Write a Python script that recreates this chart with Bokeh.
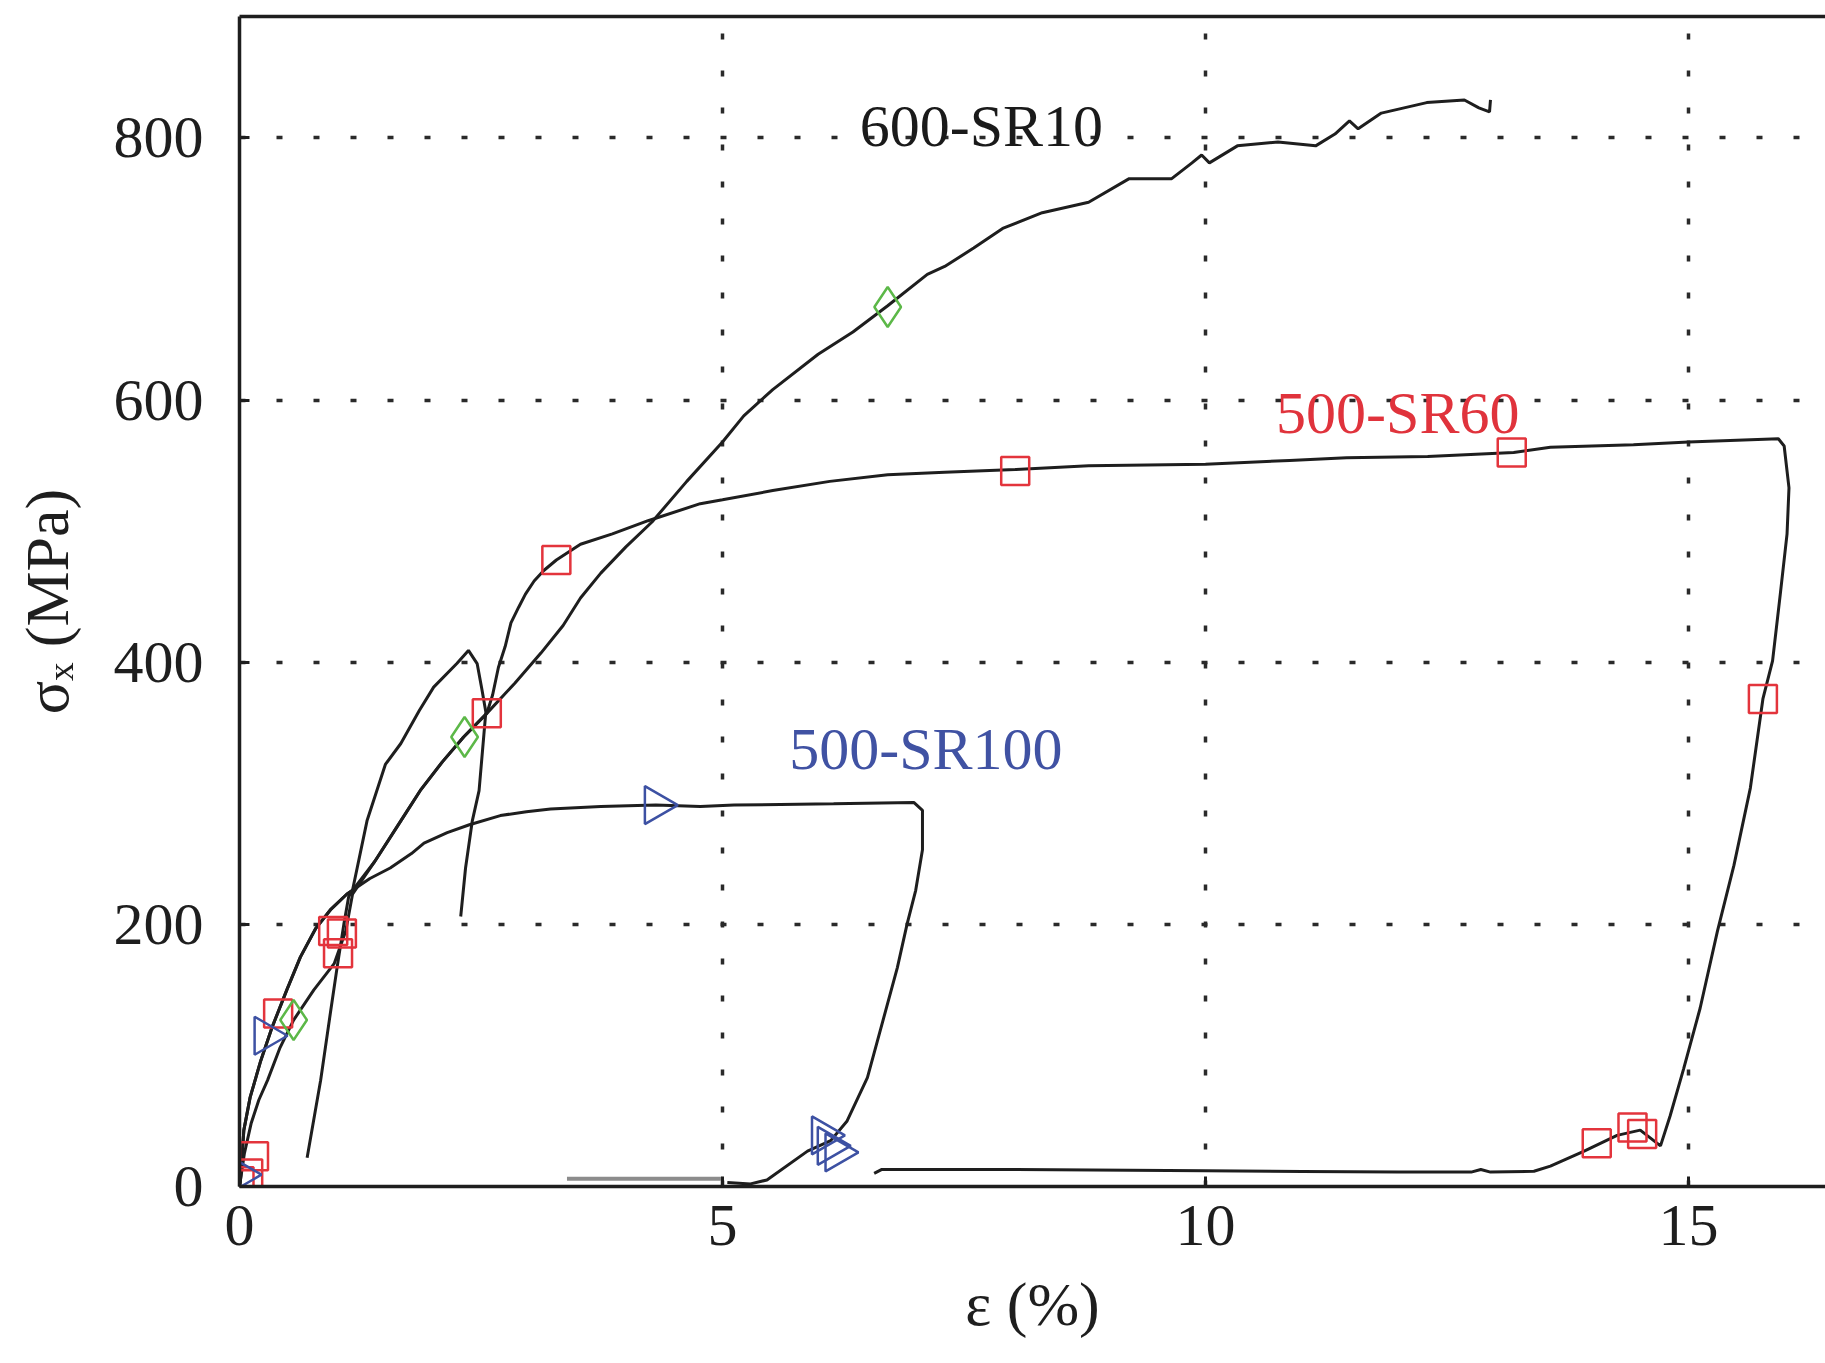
import math
from bokeh.plotting import figure
from bokeh.models import Range1d, LinearAxis, FixedTicker, ColumnDataSource
from bokeh.embed import file_html
from bokeh.resources import INLINE
from bokeh.core.properties import value

# ---------------- data (strain in %, stress in MPa) ----------------
x_ticks = [0, 5, 10, 15]
y_ticks = [0, 200, 400, 600, 800]

sr10_strain = [0, 0.05, 0.12, 0.20, 0.29, 0.42, 0.56, 0.77, 0.98, 1.10, 1.17, 1.40, 1.67, 1.87,
               2.10, 2.32, 2.56, 2.85, 3.12, 3.35, 3.53, 3.74, 4.00, 4.27, 4.63, 5.00, 5.22, 5.52,
               5.99, 6.35, 6.71, 7.12, 7.30, 7.60, 7.90, 8.31, 8.79, 9.21, 9.65, 9.86, 9.96,
               10.04, 10.33, 10.75, 11.14, 11.34, 11.49, 11.58, 11.82, 12.29, 12.68, 12.83,
               12.94, 12.95]
sr10_stress = [0, 25, 48, 66, 81, 106, 127, 150, 170, 195, 223, 248, 279, 302,
               324, 343, 361, 384, 407, 428, 449, 468, 488, 507, 538, 568, 588, 608,
               635, 652, 672, 696, 702, 716, 731, 743, 751, 769, 769, 781, 787,
               781, 794, 797, 794, 803, 813, 807, 819, 827, 829, 823,
               820, 829]

sr60_strain = [0, 0.01, 0.045, 0.11, 0.22, 0.34, 0.49, 0.63, 0.79, 0.94, 1.11, 1.17, 1.40,
               1.67, 1.87, 2.10, 2.32, 2.56, 2.62, 2.68, 2.75, 2.81, 2.89, 2.96, 3.05, 3.15,
               3.28, 3.53, 3.86, 4.23, 4.77, 5.00, 5.52, 6.11, 6.71, 7.30, 8.03, 8.79, 10.00,
               10.87, 11.46, 12.30, 13.19, 13.57, 14.43, 15.00, 15.93, 15.99, 16.04, 16.02,
               15.95, 15.87, 15.77, 15.64, 15.47, 15.30, 15.12, 14.95, 14.81, 14.71, 14.50,
               14.26, 13.92, 13.57, 13.40, 12.95, 12.85, 12.75, 12.00, 11.00, 10.00, 8.00,
               6.65, 6.57]
sr60_stress = [0, 5, 43, 68, 96, 122, 150, 175, 197, 211, 223, 226, 248,
               279, 302, 324, 343, 361, 375, 396, 412, 430, 442, 452, 462, 470,
               478, 490, 498, 508, 521, 524, 531, 538, 543, 545, 547, 550, 551,
               554, 556, 557, 560, 564, 566, 568, 570.5, 565, 533, 498,
               452, 401, 372, 304, 245, 195, 136, 90, 54, 31, 43,
               39, 27, 15.5, 11.6, 11, 13, 11, 11, 11.5, 12, 13,
               13, 10]

sr100_strain = [0, 0.01, 0.045, 0.11, 0.22, 0.34, 0.49, 0.63, 0.79, 0.94, 1.11, 1.17, 1.35,
                1.56, 1.78, 1.91, 2.15, 2.38, 2.70, 2.97, 3.22, 3.74, 4.31, 4.77, 5.12, 5.60,
                6.15, 6.98, 7.07, 7.07, 7.00, 6.91, 6.81, 6.67, 6.50, 6.29, 6.12, 5.88, 5.46,
                5.29, 5.05]
sr100_stress = [0, 5, 43, 68, 96, 122, 150, 175, 197, 211, 223, 226, 235,
                243, 254, 262, 270, 276, 283, 286, 288, 290, 291, 290, 291, 291.5,
                292, 293, 287, 257, 226, 200, 167, 129, 83, 50, 35, 27, 5,
                2, 3]

# unlabelled reload / drop branch
extra_strain = [0.70, 0.84, 0.94, 1.01, 1.08, 1.13, 1.17, 1.32, 1.51, 1.67, 1.86, 2.01, 2.25,
                2.37, 2.46, 2.51, 2.55, 2.53, 2.48, 2.41, 2.34, 2.29]
extra_stress = [22, 81, 132, 167, 200, 221, 226, 279, 322, 338, 363, 381, 399,
                409, 399, 379, 362, 345, 302, 279, 243, 206]

# grey residual segment
grey_strain = [3.39, 5.00]
grey_stress = [6, 6]

# markers
sq_strain = [0.00, 0.09, 0.15, 0.40, 0.97, 1.06, 1.02, 2.56, 3.28, 8.03, 13.17, 15.77, 14.05, 14.42, 14.52]
sq_stress = [4, 10, 23, 132, 195, 193, 178, 361, 478, 546, 560, 372, 33, 45, 40]
dia_strain = [0.56, 2.33, 6.71]
dia_stress = [127, 343, 671]
tri_strain = [0.00, 0.27, 4.31, 6.04, 6.10, 6.18]
tri_stress = [9, 115, 291, 39, 31, 26]

ann_text = ["600-SR10", "500-SR60", "500-SR100"]
ann_x = [6.42, 10.73, 5.69]
ann_y = [809, 590, 334]
ann_color = ["#1a1a1a", "#e0333c", "#4052a3"]

for a, b in [(sr10_strain, sr10_stress), (sr60_strain, sr60_stress), (sr100_strain, sr100_stress),
             (extra_strain, extra_stress), (sq_strain, sq_stress), (dia_strain, dia_stress),
             (tri_strain, tri_stress)]:
    assert len(a) == len(b), (len(a), len(b))

# ---------------- figure ----------------
SERIF = "Liberation Serif"
INK = "#1e1e1e"

W, H = 1825, 1363
LEFT, TOP, BOTTOM = 239, 16, 177
X_END, Y_END = 16.418, 892.7

p = figure(width=W, height=H, output_backend="svg", toolbar_location=None,
           x_range=Range1d(0, X_END), y_range=Range1d(0, Y_END),
           min_border_left=LEFT, min_border_right=0, min_border_top=TOP,
           min_border_bottom=BOTTOM)
p.outline_line_color = None
p.background_fill_color = "white"
p.border_fill_color = "white"

p.xaxis.ticker = FixedTicker(ticks=x_ticks)
p.yaxis.ticker = FixedTicker(ticks=y_ticks)
for ax in (p.xaxis[0], p.yaxis[0]):
    ax.axis_line_width = 3.5
    ax.axis_line_color = INK
    ax.major_tick_in = 10
    ax.major_tick_out = 0
    ax.major_tick_line_width = 3
    ax.major_tick_line_color = INK
    ax.minor_tick_line_color = None
    ax.major_label_text_font = SERIF
    ax.major_label_text_font_size = "60px"
    ax.major_label_text_color = INK
    ax.axis_label_text_font = SERIF
    ax.axis_label_text_font_size = "62px"
    ax.axis_label_text_font_style = "normal"
    ax.axis_label_text_color = INK
p.xaxis.major_label_standoff = 19
p.yaxis.major_label_standoff = 36

p.xaxis.axis_label = "ε (%)"
p.xaxis.axis_label_standoff = 22
p.yaxis.axis_label = "σₓ (MPa)"
p.yaxis.axis_label_standoff = 30

top = LinearAxis(ticker=FixedTicker(ticks=[]), major_label_text_font_size="0px",
                 major_tick_in=0, major_tick_out=0, minor_tick_in=0, minor_tick_out=0,
                 major_label_standoff=0, axis_line_width=3.5, axis_line_color=INK)
p.add_layout(top, "above")

for g in (p.xgrid[0], p.ygrid[0]):
    g.grid_line_color = "#2a2a2a"
    g.grid_line_width = 3.5
    g.grid_line_dash = "6 31"
p.xgrid.ticker = FixedTicker(ticks=[5, 10, 15])
p.ygrid.ticker = FixedTicker(ticks=[200, 400, 600, 800])

# curves
p.line(grey_strain, grey_stress, line_color="#8c8c8c", line_width=4)
p.line(extra_strain, extra_stress, line_color=INK, line_width=3)
p.line(sr100_strain, sr100_stress, line_color=INK, line_width=3)
p.line(sr60_strain, sr60_stress, line_color=INK, line_width=3)
p.line(sr10_strain, sr10_stress, line_color=INK, line_width=3)

# markers
p.scatter(sq_strain, sq_stress, marker="square", size=28, fill_color=None,
          line_color="#e3343c", line_width=2.5)
p.scatter(dia_strain, dia_stress, marker="diamond", size=40, fill_color=None,
          line_color="#5cb848", line_width=2.5)
p.scatter(tri_strain, tri_stress, marker="triangle", size=38, angle=-math.pi / 2,
          fill_color=None, line_color="#3d51a3", line_width=2.5)

# series annotations
src = ColumnDataSource(dict(x=ann_x, y=ann_y, t=ann_text, c=ann_color))
p.text(x="x", y="y", text="t", text_color="c", source=src, text_font=value(SERIF),
       text_font_size="60px", text_align="left", text_baseline="alphabetic")

open("out.html", "w").write(file_html(p, INLINE))
